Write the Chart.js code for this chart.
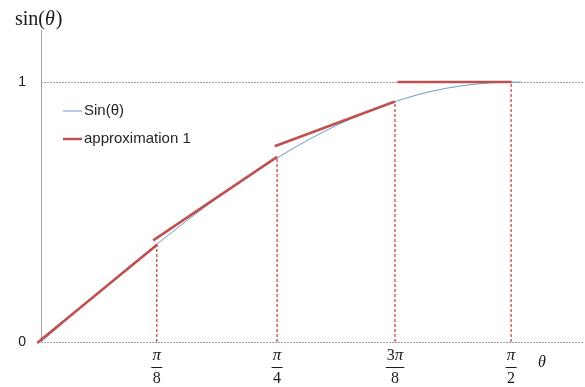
<!DOCTYPE html>
<html>
<head>
<meta charset="utf-8">
<script src="https://cdn.jsdelivr.net/npm/chart.js@4"></script>
<style>
  html, body { margin: 0; padding: 0; background: #ffffff; }
  #wrap { width: 585px; height: 387px; position: relative; }
</style>
</head>
<body>
<div id="wrap"><canvas id="c"></canvas></div>
<script>
// sin(θ) curve, θ in radians
const thetaSamples = [0, 0.1, 0.2, 0.3, 0.4, 0.5, 0.6, 0.7, 0.8, 0.9, 1.0, 1.1, 1.2, 1.3, 1.4, 1.5, 1.6];
const sinValues    = [0, 0.100, 0.199, 0.296, 0.389, 0.479, 0.565, 0.644, 0.717, 0.783, 0.841, 0.891, 0.932, 0.964, 0.985, 0.997, 1.000];

// piecewise linear approximation: one straight piece per interval
const approxStartX = [-0.013, 0.374, 0.779, 1.188];
const approxStartY = [-0.004, 0.391, 0.753, 1.000];
const approxEndX   = [0.388, 0.787, 1.180, 1.569];
const approxEndY   = [0.375, 0.712, 0.925, 1.000];

// x tick marks (multiples of π/8) and their fraction labels
const tickValues       = [0.386, 0.787, 1.180, 1.567];
const tickNumerators   = ['π', 'π', '3π', 'π'];
const tickDenominators = ['8', '4', '8', '2'];

// heights of the dashed drop lines at each tick
const guideTops = [0.372, 0.705, 0.922, 1.000];

// y axis labels
const yTickValues = [0, 1];

const seriesNames = ['Sin(θ)', 'approximation 1'];

const RED = '#C0504D';
const BLUE = '#6F9ACB';
const AXIS_GRAY = '#a3a3a3';

const sinData = thetaSamples.map((t, i) => ({ x: t, y: sinValues[i] }));

const approxData = [];
approxStartX.forEach((x0, i) => {
  if (i > 0) approxData.push({ x: x0, y: null });
  approxData.push({ x: x0, y: approxStartY[i] });
  approxData.push({ x: approxEndX[i], y: approxEndY[i] });
});

const guideData = [];
tickValues.forEach((t, i) => {
  if (i > 0) guideData.push({ x: t, y: null });
  guideData.push({ x: t, y: 0 });
  guideData.push({ x: t, y: guideTops[i] });
});

// dotted horizontal reference lines at y = 0 and y = 1
const referenceLines = {
  id: 'referenceLines',
  beforeDatasetsDraw(chart) {
    const { ctx, chartArea, scales } = chart;
    ctx.save();
    ctx.strokeStyle = AXIS_GRAY;
    ctx.lineWidth = 1;
    ctx.setLineDash([2, 1]);
    yTickValues.forEach(v => {
      const y = Math.round(scales.y.getPixelForValue(v)) + 0.5;
      ctx.beginPath();
      ctx.moveTo(chartArea.left, y);
      ctx.lineTo(chartArea.right, y);
      ctx.stroke();
    });
    ctx.restore();
  }
};

// fraction tick labels, axis titles and the legend
const annotations = {
  id: 'annotations',
  afterDraw(chart) {
    const { ctx, scales } = chart;
    const xs = scales.x;
    ctx.save();
    ctx.fillStyle = '#1a1a1a';
    ctx.strokeStyle = '#1a1a1a';
    ctx.textBaseline = 'middle';

    tickValues.forEach((v, i) => {
      const cx = xs.getPixelForValue(v);
      const num = tickNumerators[i];
      // numerator: leading digit upright, π italic
      const digit = num.length > 1 ? num.slice(0, -1) : '';
      ctx.font = '16px "Liberation Serif", serif';
      const wDigit = digit ? ctx.measureText(digit).width : 0;
      ctx.font = 'italic 17px "Liberation Serif", serif';
      const wPi = ctx.measureText('π').width;
      const total = wDigit + wPi;
      let x = cx - total / 2;
      ctx.textAlign = 'left';
      if (digit) {
        ctx.font = '16px "Liberation Serif", serif';
        ctx.fillText(digit, x, 356);
        x += wDigit;
      }
      ctx.font = 'italic 17px "Liberation Serif", serif';
      ctx.fillText('π', x, 356);
      // fraction bar
      const barW = Math.max(total, 9) + 2;
      ctx.lineWidth = 1;
      ctx.beginPath();
      ctx.moveTo(cx - barW / 2, 367.5);
      ctx.lineTo(cx + barW / 2, 367.5);
      ctx.stroke();
      // denominator
      ctx.font = '16px "Liberation Serif", serif';
      ctx.textAlign = 'center';
      ctx.fillText(tickDenominators[i], cx, 378.5);
    });

    // x axis title
    ctx.font = 'italic 16px "Liberation Serif", serif';
    ctx.textAlign = 'center';
    ctx.fillText('θ', 542, 363);

    // y axis title: sin(θ)
    ctx.textAlign = 'left';
    ctx.textBaseline = 'alphabetic';
    let tx = 15;
    ctx.font = '20px "Liberation Serif", serif';
    ctx.fillText('sin(', tx, 25);
    tx += ctx.measureText('sin(').width;
    ctx.font = 'italic 20px "Liberation Serif", serif';
    ctx.fillText('θ', tx, 25);
    tx += ctx.measureText('θ').width + 1;
    ctx.font = '20px "Liberation Serif", serif';
    ctx.fillText(')', tx, 25);

    // legend
    const rows = [
      { label: seriesNames[0], color: BLUE, width: 1, y: 111 },
      { label: seriesNames[1], color: RED, width: 2.5, y: 139 }
    ];
    ctx.textBaseline = 'middle';
    ctx.font = '15px "Liberation Sans", sans-serif';
    rows.forEach(r => {
      ctx.strokeStyle = r.color;
      ctx.lineWidth = r.width;
      ctx.setLineDash([]);
      ctx.beginPath();
      ctx.moveTo(63, r.y);
      ctx.lineTo(82, r.y);
      ctx.stroke();
      ctx.fillStyle = '#262626';
      ctx.fillText(r.label, 84, r.y);
    });
    ctx.restore();
  }
};

new Chart(document.getElementById('c'), {
  type: 'scatter',
  data: {
    datasets: [
      {
        label: seriesNames[1],
        data: approxData,
        showLine: true,
        borderColor: RED,
        borderWidth: 2.5,
        pointRadius: 0,
        spanGaps: false,
        clip: false,
        order: 0
      },
      {
        label: seriesNames[0],
        data: sinData,
        showLine: true,
        borderColor: BLUE,
        borderWidth: 1,
        pointRadius: 0,
        cubicInterpolationMode: 'monotone',
        order: 1
      },
      {
        label: 'guides',
        data: guideData,
        showLine: true,
        borderColor: '#B8403D',
        borderWidth: 1.2,
        borderDash: [3, 2],
        pointRadius: 0,
        spanGaps: false,
        order: 2
      }
    ]
  },
  options: {
    responsive: true,
    maintainAspectRatio: false,
    animation: false,
    devicePixelRatio: 1,
    layout: { padding: { top: 30, right: 1, left: 0, bottom: 0 } },
    plugins: {
      legend: { display: false },
      tooltip: { enabled: false }
    },
    scales: {
      x: {
        type: 'linear',
        min: 0,
        max: 1.81,
        grid: { display: false },
        border: { display: false },
        ticks: { display: false },
        afterFit(scale) { scale.height = 45; }
      },
      y: {
        type: 'linear',
        min: 0,
        max: 1.2,
        grid: { display: false, drawTicks: false },
        border: { display: true, color: AXIS_GRAY, width: 1 },
        afterBuildTicks(scale) { scale.ticks = yTickValues.map(v => ({ value: v })); },
        ticks: {
          padding: 15,
          color: '#1a1a1a',
          font: { family: '"Liberation Sans", sans-serif', size: 14 }
        },
        afterFit(scale) { scale.width = 41; }
      }
    }
  },
  plugins: [referenceLines, annotations]
});
</script>
</body>
</html>
